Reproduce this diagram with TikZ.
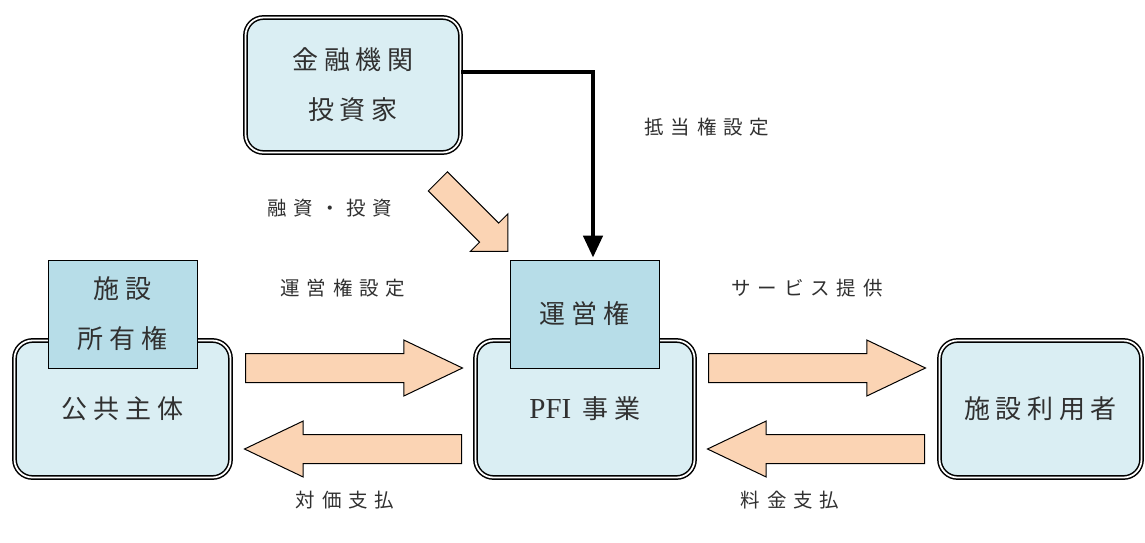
\documentclass[tikz,border=0pt]{standalone}
\usepackage{fontspec}
\setmainfont{Liberation Serif}
\newfontfamily\jp{Noto Sans CJK JP}[LetterSpace=22]
\newfontfamily\jpl{Noto Sans CJK JP}[LetterSpace=35]
\newfontfamily\latn{Liberation Serif}
\usetikzlibrary{shapes.arrows,arrows.meta}
\definecolor{boxblue}{HTML}{DAEEF3}
\definecolor{tagblue}{HTML}{B7DDE8}
\definecolor{peach}{HTML}{FBD4B4}
\definecolor{txt}{HTML}{303030}
\tikzset{
  party/.style={draw, double, line width=1.5pt, double distance=1.8pt, rounded corners=18pt,
    fill=boxblue, align=center, text=txt, font=\jp\fontsize{26}{50}\selectfont},
  tag/.style={draw, line width=0.8pt, fill=tagblue, minimum width=149pt, minimum height=108pt,
    align=center, text=txt, font=\jp\fontsize{26}{50}\selectfont},
  fat/.style={single arrow, draw, fill=peach, line width=1pt, inner xsep=0pt, inner ysep=14pt,
    minimum width=1pt, single arrow head extend=13.5pt, single arrow tip angle=51,
    minimum height=217pt, anchor=tail},
  lbl/.style={text=txt, font=\jpl\fontsize{19.5}{22}\selectfont},
}
\begin{document}
\begin{tikzpicture}[x=1pt,y=-1pt]
\useasboundingbox (0,0) rectangle (1145,542);
\node[party, minimum width=215pt, minimum height=135pt] (fin) at (353,85) {金融機関\\投資家};
\node[party, minimum width=216pt, minimum height=137pt] (pub) at (122.5,409) {公共主体};
\node[party, minimum width=219pt, minimum height=137pt] (pfi) at (585,409) {{\latn\fontsize{29}{30}\selectfont PFI} 事業};
\node[party, minimum width=202pt, minimum height=137pt] (usr) at (1040.5,409) {施設利用者};
\node[tag] (own) at (122.5,314) {施設\\所有権};
\node[tag] (opr) at (584.5,314) {運営権};
\node[fat] (setarr) at (245,368) {};
\node[fat, rotate=180] (payarr) at (462,449) {};
\node[fat] (svcarr) at (708,368) {};
\node[fat, rotate=180] (feearr) at (925,449) {};
\node[fat, minimum height=99pt, inner ysep=13pt, single arrow head extend=13pt, single arrow tip angle=90, rotate=-45] (fundarr) at (437.5,181) {};
\draw[line width=4.5pt, line join=miter, -{Triangle[width=19pt,length=22pt]}, shorten >=2pt]
  ([yshift=13pt]fin.east) -| ([xshift=8.5pt]opr.north);
\node[lbl] (lmort) at (707,127) {抵当権設定};
\node[lbl] (lfund) at (330,208) {融資・投資};
\node[lbl] (lset) at (343,288) {運営権設定};
\node[lbl] (lsvc) at (807,288) {サービス提供};
\node[lbl] (lpay) at (345,500) {対価支払};
\node[lbl] (lfee) at (790,500) {料金支払};
\end{tikzpicture}
\end{document}
